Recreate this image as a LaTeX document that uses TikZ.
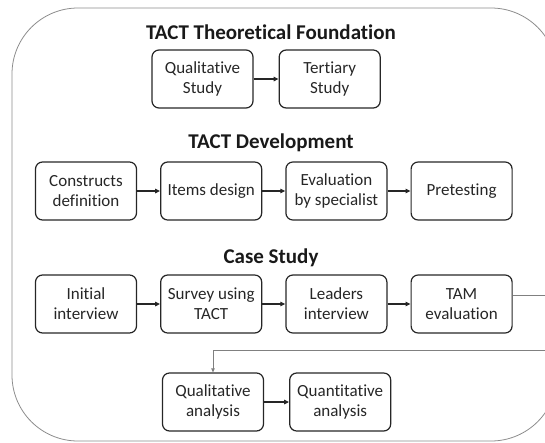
\documentclass[tikz,border=0pt]{standalone}
\usepackage{fontspec}
\setmainfont{Carlito}[Ligatures=NoCommon]
\usetikzlibrary{arrows.meta,positioning}

\begin{document}
\begin{tikzpicture}[
  x=1pt, y=-1pt,
  every node/.style={font=\fontsize{17}{20}\selectfont, text=black!85},
  stage/.style={draw=black!85, line width=1.2pt, rounded corners=7pt,
    minimum width=101pt, minimum height=58pt, align=center, inner sep=1pt},
  title/.style={font=\fontsize{21}{24}\selectfont\bfseries, text=black!90},
  flow/.style={-{Triangle[length=5pt,width=4.5pt]}, line width=1.5pt, black!85},
  link/.style={-{Triangle[length=4pt,width=3.5pt]}, line width=0.8pt, gray},
  node distance=23pt
]
\useasboundingbox (0,0) rectangle (545,442);
\clip (0,0) rectangle (545,442);
% outer frame
\draw[gray!90, line width=0.8pt, rounded corners=66pt] (12,8) rectangle (557,441);
% titles
\node[title] (t1) at (271,32) {TACT Theoretical Foundation};
\node[title] (t2) at (271,143) {TACT Development};
\node[title] (t3) at (271,258) {Case Study};
% theoretical foundation
\node[stage] (qs) at (202.5,79) {Qualitative\\Study};
\node[stage, right=25pt of qs] (ts) {Tertiary\\Study};
% development
\node[stage] (cd) at (86,191) {Constructs\\definition};
\node[stage, right=of cd] (id) {Items design};
\node[stage, right=of id] (es) {Evaluation\\by specialist};
\node[stage, right=of es] (pt) {Pretesting};
% case study
\node[stage] (ii) at (86,304) {Initial\\interview};
\node[stage, right=of ii] (su) {Survey using\\TACT};
\node[stage, right=of su] (li) {Leaders\\interview};
\node[stage, right=of li] (tam) {TAM\\evaluation};
% analysis
\node[stage] (qa) at (213,402) {Qualitative\\analysis};
\node[stage, right=25pt of qa] (qn) {Quantitative\\analysis};
% edges
\foreach \a/\b in {qs/ts, cd/id, id/es, es/pt, ii/su, su/li, li/tam, qa/qn}
  \draw[flow] (\a) -- (\b);
\draw[link] ([yshift=9pt]tam.east) -- ++(40,0) -- ++(0,55) -| (qa.north);
\end{tikzpicture}
\end{document}
